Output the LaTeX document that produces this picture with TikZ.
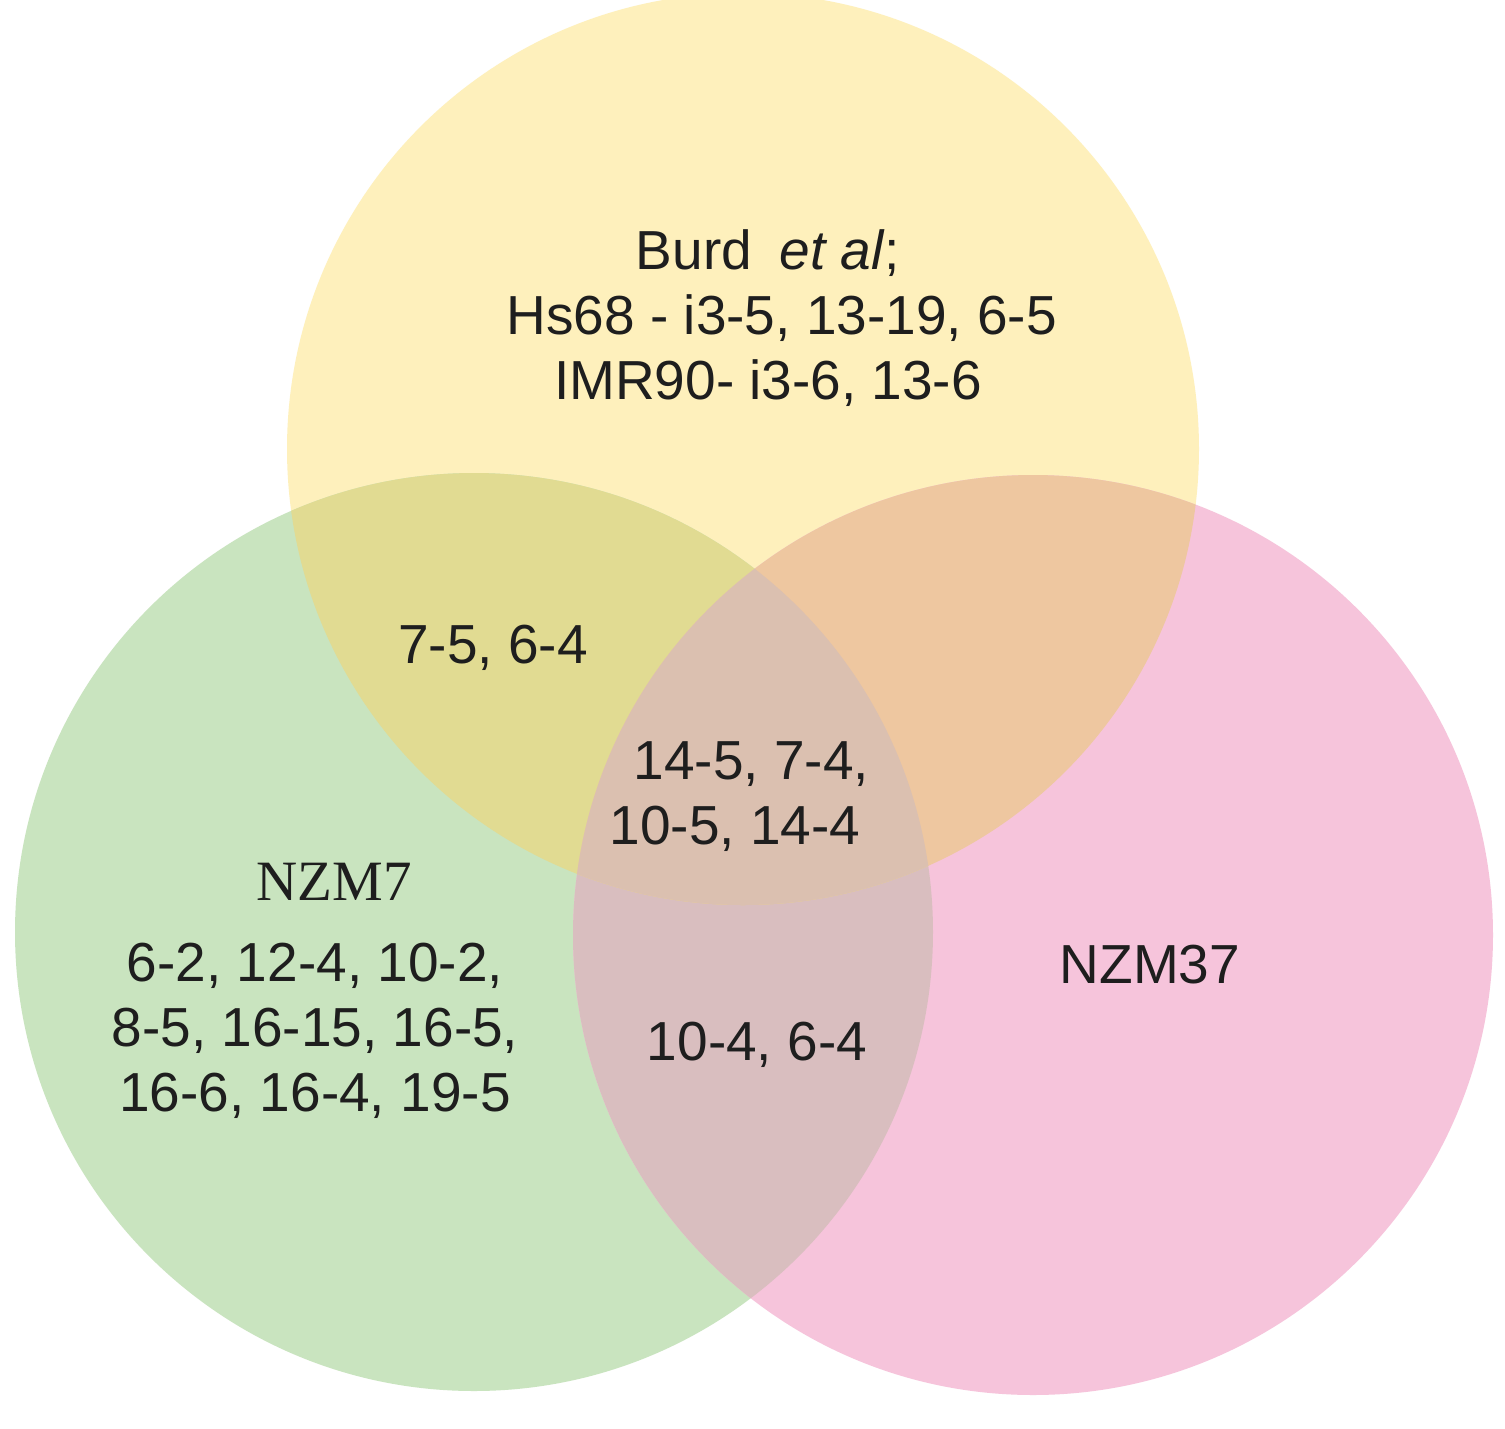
\documentclass[tikz,border=0pt]{standalone}
\usepackage{fontspec}
\setmainfont{Liberation Sans}
\newfontfamily\serifnz{Liberation Serif}
\definecolor{cY}{HTML}{FEF0BC}
\definecolor{cG}{HTML}{C9E4BF}
\definecolor{cP}{HTML}{F6C4DB}
\definecolor{cYG}{HTML}{E1DB92}
\definecolor{cYP}{HTML}{EEC7A0}
\definecolor{cGP}{HTML}{D9BEBF}
\definecolor{cYGP}{HTML}{DBC0B0}
\definecolor{txt}{HTML}{1E1E1E}
\begin{document}
\begin{tikzpicture}[x=1pt,y=-1pt,
  lab/.style={text=txt, align=center, font=\fontsize{55}{65}\selectfont, inner sep=0pt}]
\useasboundingbox (0,0) rectangle (1505,1428);
\fill[white] (0,0) rectangle (1505,1428);
% base circles
\fill[cY] (743,449) circle[radius=456pt];
\fill[cG] (474,932) circle[radius=459pt];
\fill[cP] (1033,935) circle[radius=460pt];
% green & pink
\begin{scope}
  \clip (474,932) circle[radius=459pt];
  \fill[cGP] (1033,935) circle[radius=460pt];
\end{scope}
% yellow overlaps
\begin{scope}
  \clip (743,449) circle[radius=456pt];
  \fill[cYG] (474,932) circle[radius=459pt];
  \fill[cYP] (1033,935) circle[radius=460pt];
  \clip (474,932) circle[radius=459pt];
  \fill[cYGP] (1033,935) circle[radius=460pt];
\end{scope}
% labels
\node[lab] (burd) at (768,318) {Burd\hspace{0.5em}\textit{et al};\\[0pt] \hspace{0.5em}Hs68 - i3-5, 13-19, 6-5\\IMR90- i3-6, 13-6};
\node[lab] (yg) at (493,648) {7-5, 6-4};
\node[lab] (ygp) at (735,797) {\hspace{0.6em}14-5, 7-4,\\10-5, 14-4};
\node[lab, font=\serifnz\fontsize{57}{65}\selectfont] (nzm7) at (334,882) {NZM7};
\node[lab] (g) at (315,1031) {6-2, 12-4, 10-2,\\8-5, 16-15, 16-5,\\16-6, 16-4, 19-5};
\node[lab] (nzm37) at (1150,965) {NZM37};
\node[lab] (gp) at (757,1045) {10-4, 6-4};
\end{tikzpicture}
\end{document}
